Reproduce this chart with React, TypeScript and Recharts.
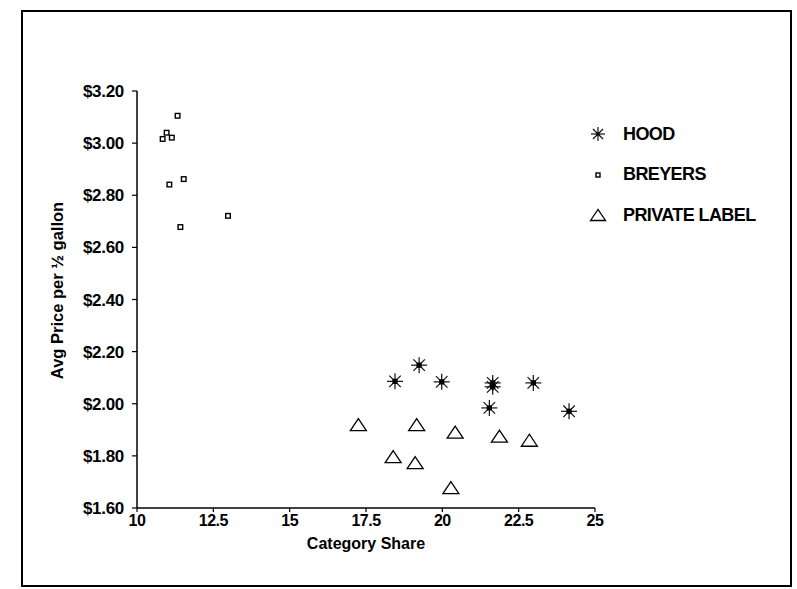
import React from 'react';
import { ScatterChart, Scatter, XAxis, YAxis, Legend } from 'recharts';

// ---- data ----
const hoodShare = [19.24, 18.45, 19.98, 21.65, 21.65, 22.98, 21.54, 24.15];
const hoodPrice = [2.148, 2.086, 2.084, 2.08, 2.065, 2.08, 1.984, 1.971];

const breyersShare = [11.33, 10.97, 10.84, 11.14, 11.53, 11.06, 12.98, 11.42];
const breyersPrice = [3.105, 3.04, 3.016, 3.021, 2.862, 2.841, 2.721, 2.678];

const privateShare = [17.25, 19.16, 20.42, 21.87, 22.85, 18.39, 19.11, 20.28];
const privatePrice = [1.92, 1.92, 1.891, 1.876, 1.86, 1.797, 1.774, 1.678];

const seriesNames = ['HOOD', 'BREYERS', 'PRIVATE LABEL'];
const shareTicks = [10, 12.5, 15, 17.5, 20, 22.5, 25];
const priceTicks = [1.6, 1.8, 2.0, 2.2, 2.4, 2.6, 2.8, 3.0, 3.2];

const xLabel = 'Category Share';
const yLabel = 'Avg Price per \u00BD gallon';

const zip = (xs: number[], ys: number[]) => xs.map((x, i) => ({ x, y: ys[i] }));
const hoodData = zip(hoodShare, hoodPrice);
const breyersData = zip(breyersShare, breyersPrice);
const privateData = zip(privateShare, privatePrice);

const FONT = "'Liberation Sans', Arial, Helvetica, sans-serif";

// ---- marker shapes ----
const StarMark = ({ cx, cy, r = 8, dot = 2.6 }: any) => {
  const d = r * 0.72;
  const s = { stroke: '#111', strokeWidth: 1.2 };
  return (
    <g>
      <line x1={cx - r} y1={cy} x2={cx + r} y2={cy} {...s} />
      <line x1={cx} y1={cy - r} x2={cx} y2={cy + r} {...s} />
      <line x1={cx - d} y1={cy - d} x2={cx + d} y2={cy + d} {...s} />
      <line x1={cx - d} y1={cy + d} x2={cx + d} y2={cy - d} {...s} />
      {dot > 0 && <rect x={cx - dot} y={cy - dot} width={dot * 2} height={dot * 2} fill="#000" />}
    </g>
  );
};

const SquareMark = ({ cx, cy, h = 2.3 }: any) => (
  <rect x={cx - h} y={cy - h} width={h * 2} height={h * 2} fill="#fff" stroke="#000" strokeWidth={1.4} />
);

const TriMark = ({ cx, cy, w = 8, h = 6 }: any) => (
  <polygon
    points={`${cx},${cy - h} ${cx - w},${cy + h} ${cx + w},${cy + h}`}
    fill="#fff"
    stroke="#000"
    strokeWidth={1.3}
    strokeLinejoin="miter"
  />
);

const legendIcons = [
  <StarMark cx={10} cy={10} r={7} dot={1.5} />,
  <SquareMark cx={10} cy={10} h={2} />,
  <TriMark cx={10} cy={10} w={7.5} h={5.5} />,
];

const LegendContent = () => (
  <div style={{ fontFamily: FONT }}>
    {seriesNames.map((name, i) => (
      <div key={name} style={{ display: 'flex', alignItems: 'center', height: 40.5 }}>
        <div style={{ width: 36, display: 'flex', justifyContent: 'center' }}>
          <svg width={20} height={20}>{legendIcons[i]}</svg>
        </div>
        <span
          style={{
            paddingLeft: 7,
            fontSize: 18,
            fontWeight: 'bold',
            letterSpacing: -0.6,
            color: '#000',
            whiteSpace: 'nowrap',
          }}
        >
          {name}
        </span>
      </div>
    ))}
  </div>
);

const YLabel = (props: any) => {
  const vb = props.viewBox || { x: 40, y: 91, width: 97, height: 417 };
  const x = vb.x + 17;
  const y = vb.y + vb.height / 2 - 9;
  return (
    <text
      x={x}
      y={y}
      transform={`rotate(-90 ${x} ${y})`}
      textAnchor="middle"
      dominantBaseline="central"
      fontFamily={FONT}
      fontWeight="bold"
      fontSize={16.5}
      fill="#000"
    >
      {yLabel}
    </text>
  );
};

export default function App() {
  return (
    <div style={{ position: 'absolute', left: 0, top: 0, width: 797, height: 589, background: '#fff' }}>
      <ScatterChart width={797} height={589} margin={{ top: 91, right: 202, bottom: 0, left: 40 }}>
        <XAxis
          type="number"
          dataKey="x"
          domain={[10, 25]}
          ticks={shareTicks}
          allowDataOverflow
          height={81}
          interval={0}
          tickSize={4}
          tickMargin={3}
          axisLine={{ stroke: '#000', strokeWidth: 1.5 }}
          tickLine={{ stroke: '#000', strokeWidth: 1.2 }}
          tick={{ fill: '#000', fontSize: 16, fontWeight: 'bold', fontFamily: FONT, letterSpacing: -0.5 }}
          label={{
            value: xLabel,
            position: 'insideTop',
            offset: 30,
            fill: '#000',
            fontSize: 16,
            fontWeight: 'bold',
            fontFamily: FONT,
          }}
        />
        <YAxis
          type="number"
          dataKey="y"
          domain={[1.6, 3.2]}
          ticks={priceTicks}
          allowDataOverflow
          width={97}
          interval={0}
          tickSize={5}
          tickMargin={8}
          tickFormatter={(v: number) => '$' + v.toFixed(2)}
          axisLine={{ stroke: '#000', strokeWidth: 1.5 }}
          tickLine={{ stroke: '#000', strokeWidth: 1.2 }}
          tick={{ fill: '#000', fontSize: 17, fontWeight: 'bold', fontFamily: FONT, letterSpacing: -0.3 }}
          label={{ content: YLabel }}
        />
        <Scatter name={seriesNames[0]} data={hoodData} shape={(p: any) => <StarMark cx={p.cx} cy={p.cy} />} isAnimationActive={false} />
        <Scatter name={seriesNames[1]} data={breyersData} shape={(p: any) => <SquareMark cx={p.cx} cy={p.cy} />} isAnimationActive={false} />
        <Scatter name={seriesNames[2]} data={privateData} shape={(p: any) => <TriMark cx={p.cx} cy={p.cy} />} isAnimationActive={false} />
        <Legend
          layout="horizontal"
          align="center"
          verticalAlign="middle"
          wrapperStyle={{ left: 580, top: 114, width: 210 }}
          content={LegendContent}
        />
      </ScatterChart>
      <div
        style={{
          position: 'absolute',
          left: 21,
          top: 10,
          width: 771,
          height: 577,
          border: '2px solid #000',
          boxSizing: 'border-box',
          pointerEvents: 'none',
        }}
      />
    </div>
  );
}
